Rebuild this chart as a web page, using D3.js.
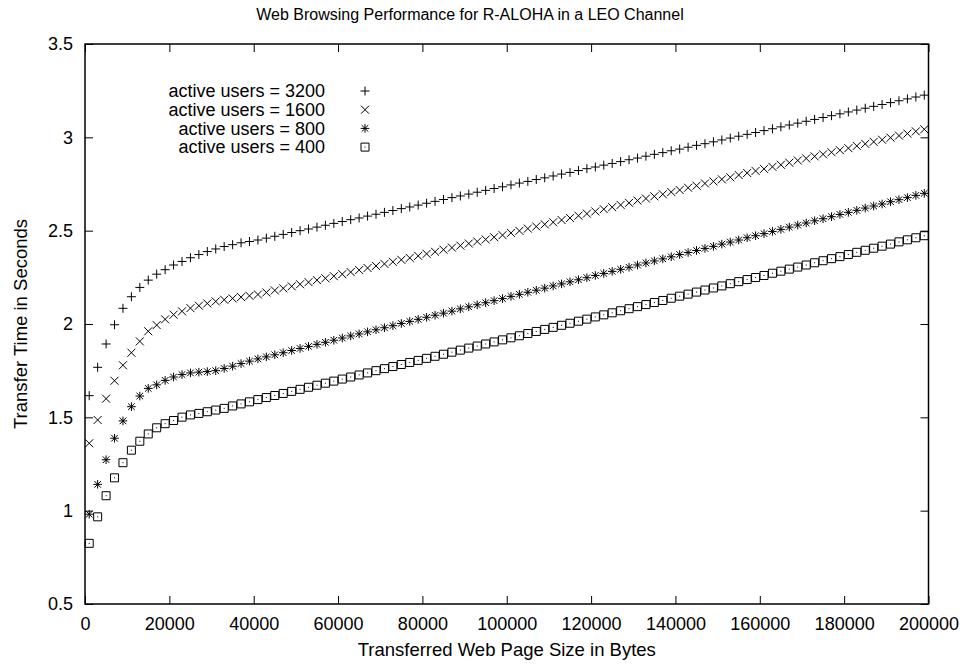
<!DOCTYPE html>
<html>
<head>
<meta charset="utf-8">
<script src="https://cdn.jsdelivr.net/npm/d3@7"></script>
<style>
  body { margin: 0; background: #fff; }
  text { font-family: "Liberation Sans", Arial, Helvetica, sans-serif; fill: #000; }
</style>
</head>
<body>
<div id="chart"></div>
<script>
// page sizes (bytes) of the sampled points
var pageSizes = [
  1000, 3000, 5000, 7000, 9000, 11000, 13000, 15000, 17000, 19000,
  21000, 23000, 25000, 27000, 29000, 31000, 33000, 35000, 37000, 39000,
  41000, 43000, 45000, 47000, 49000, 51000, 53000, 55000, 57000, 59000,
  61000, 63000, 65000, 67000, 69000, 71000, 73000, 75000, 77000, 79000,
  81000, 83000, 85000, 87000, 89000, 91000, 93000, 95000, 97000, 99000,
  101000, 103000, 105000, 107000, 109000, 111000, 113000, 115000, 117000, 119000,
  121000, 123000, 125000, 127000, 129000, 131000, 133000, 135000, 137000, 139000,
  141000, 143000, 145000, 147000, 149000, 151000, 153000, 155000, 157000, 159000,
  161000, 163000, 165000, 167000, 169000, 171000, 173000, 175000, 177000, 179000,
  181000, 183000, 185000, 187000, 189000, 191000, 193000, 195000, 197000, 199000
];

// transfer times (s)
var users3200 = [
  1.616, 1.768, 1.893, 1.996, 2.084, 2.146, 2.196, 2.235, 2.267, 2.291,
  2.316, 2.335, 2.355, 2.372, 2.388, 2.402, 2.415, 2.425, 2.435, 2.442,
  2.450, 2.460, 2.470, 2.480, 2.490, 2.500, 2.509, 2.519, 2.529, 2.539,
  2.549, 2.559, 2.568, 2.578, 2.588, 2.598, 2.608, 2.618, 2.627, 2.637,
  2.647, 2.657, 2.667, 2.677, 2.686, 2.696, 2.706, 2.716, 2.726, 2.735,
  2.745, 2.755, 2.764, 2.774, 2.783, 2.793, 2.803, 2.812, 2.822, 2.832,
  2.841, 2.851, 2.860, 2.870, 2.880, 2.889, 2.899, 2.909, 2.918, 2.928,
  2.937, 2.947, 2.957, 2.966, 2.976, 2.986, 2.996, 3.006, 3.016, 3.026,
  3.036, 3.046, 3.056, 3.066, 3.076, 3.086, 3.096, 3.106, 3.116, 3.126,
  3.136, 3.146, 3.156, 3.166, 3.176, 3.186, 3.196, 3.206, 3.216, 3.226
];
var users1600 = [
  1.361, 1.486, 1.600, 1.696, 1.779, 1.846, 1.907, 1.961, 1.994, 2.025,
  2.050, 2.068, 2.085, 2.098, 2.110, 2.121, 2.130, 2.137, 2.144, 2.151,
  2.158, 2.169, 2.180, 2.191, 2.202, 2.213, 2.224, 2.235, 2.245, 2.256,
  2.267, 2.278, 2.289, 2.300, 2.311, 2.322, 2.333, 2.344, 2.354, 2.365,
  2.376, 2.387, 2.398, 2.409, 2.420, 2.431, 2.442, 2.453, 2.465, 2.476,
  2.488, 2.499, 2.511, 2.522, 2.534, 2.545, 2.557, 2.568, 2.580, 2.591,
  2.603, 2.615, 2.626, 2.638, 2.649, 2.661, 2.672, 2.684, 2.695, 2.707,
  2.718, 2.730, 2.741, 2.753, 2.764, 2.775, 2.786, 2.798, 2.809, 2.820,
  2.831, 2.842, 2.853, 2.864, 2.876, 2.887, 2.898, 2.909, 2.920, 2.931,
  2.942, 2.954, 2.965, 2.976, 2.987, 2.998, 3.009, 3.020, 3.032, 3.043
];
var users800 = [
  0.981, 1.141, 1.273, 1.388, 1.481, 1.557, 1.614, 1.655, 1.674, 1.698,
  1.716, 1.729, 1.738, 1.742, 1.745, 1.750, 1.762, 1.774, 1.788, 1.801,
  1.813, 1.824, 1.835, 1.846, 1.858, 1.869, 1.880, 1.891, 1.902, 1.913,
  1.925, 1.936, 1.947, 1.958, 1.969, 1.980, 1.991, 2.003, 2.014, 2.025,
  2.036, 2.047, 2.058, 2.069, 2.081, 2.092, 2.103, 2.114, 2.125, 2.136,
  2.148, 2.159, 2.170, 2.181, 2.192, 2.204, 2.215, 2.226, 2.237, 2.248,
  2.260, 2.271, 2.282, 2.293, 2.304, 2.316, 2.327, 2.338, 2.349, 2.360,
  2.372, 2.383, 2.394, 2.405, 2.416, 2.428, 2.439, 2.450, 2.462, 2.473,
  2.484, 2.496, 2.507, 2.519, 2.530, 2.541, 2.553, 2.564, 2.575, 2.587,
  2.598, 2.609, 2.621, 2.632, 2.643, 2.655, 2.666, 2.677, 2.689, 2.700
];
var users400 = [
  0.825, 0.967, 1.080, 1.176, 1.257, 1.324, 1.372, 1.411, 1.444, 1.466,
  1.483, 1.501, 1.513, 1.521, 1.530, 1.539, 1.548, 1.561, 1.572, 1.583,
  1.595, 1.606, 1.617, 1.628, 1.639, 1.650, 1.661, 1.672, 1.683, 1.694,
  1.705, 1.716, 1.727, 1.738, 1.750, 1.761, 1.772, 1.783, 1.794, 1.805,
  1.816, 1.827, 1.838, 1.849, 1.860, 1.871, 1.882, 1.893, 1.904, 1.915,
  1.926, 1.937, 1.949, 1.960, 1.971, 1.982, 1.993, 2.004, 2.015, 2.026,
  2.038, 2.049, 2.060, 2.071, 2.082, 2.093, 2.104, 2.115, 2.126, 2.138,
  2.149, 2.160, 2.171, 2.182, 2.193, 2.204, 2.216, 2.227, 2.238, 2.249,
  2.260, 2.272, 2.283, 2.294, 2.305, 2.316, 2.328, 2.339, 2.350, 2.361,
  2.372, 2.384, 2.395, 2.406, 2.417, 2.428, 2.440, 2.451, 2.462, 2.473
];

var seriesNames = ["active users = 3200", "active users = 1600", "active users = 800", "active users = 400"];
var seriesValues = [users3200, users1600, users800, users400];
var seriesSymbols = ["plus", "cross", "star", "box"];

var xTicks = [0, 20000, 40000, 60000, 80000, 100000, 120000, 140000, 160000, 180000, 200000];
var yTicks = [0.5, 1, 1.5, 2, 2.5, 3, 3.5];

// dimensions
var W = 966, H = 667;
var margin = {top: 44, right: 37.5, bottom: 63, left: 85};
var width = W - margin.left - margin.right,
    height = H - margin.top - margin.bottom;

var svg = d3.select("#chart").append("svg")
    .attr("width", W)
    .attr("height", H);

var g = svg.append("g")
    .attr("transform", "translate(" + margin.left + "," + margin.top + ")");

var x = d3.scaleLinear().domain([0, 200000]).range([0, width]);
var y = d3.scaleLinear().domain([0.5, 3.5]).range([height, 0]);

// marker shapes, gnuplot style
function symbolPath(type) {
  var p = d3.path();
  if (type === "plus" || type === "star") {
    var a = type === "plus" ? 4.5 : 4.3;
    p.moveTo(-a, 0); p.lineTo(a, 0);
    p.moveTo(0, -a); p.lineTo(0, a);
  }
  if (type === "cross" || type === "star") {
    var c = type === "cross" ? 4 : 3.3;
    p.moveTo(-c, -c); p.lineTo(c, c);
    p.moveTo(-c, c); p.lineTo(c, -c);
  }
  if (type === "box") {
    p.rect(-4, -4, 8, 8);
    p.moveTo(-0.5, 0); p.lineTo(0.5, 0);
  }
  return p.toString();
}

// axes (ticks point inward, mirrored on top and right)
var fmt = function(d) { return String(d); };

g.append("g")
    .attr("transform", "translate(0," + height + ")")
    .call(d3.axisBottom(x).tickValues(xTicks).tickFormat(fmt)
      .tickSizeInner(-8).tickSizeOuter(0).tickPadding(13));

g.append("g")
    .call(d3.axisTop(x).tickValues(xTicks).tickFormat("")
      .tickSizeInner(-8).tickSizeOuter(0));

g.append("g")
    .call(d3.axisLeft(y).tickValues(yTicks).tickFormat(fmt)
      .tickSizeInner(-8).tickSizeOuter(0).tickPadding(12));

g.append("g")
    .attr("transform", "translate(" + width + ",0)")
    .call(d3.axisRight(y).tickValues(yTicks).tickFormat("")
      .tickSizeInner(-8).tickSizeOuter(0));

g.selectAll(".domain").remove();
g.selectAll(".tick line").attr("stroke", "#000").attr("stroke-width", 1);
g.selectAll(".tick text").attr("font-size", "18px").attr("font-family", "Liberation Sans, Arial, sans-serif");

// frame
g.append("rect")
    .attr("width", width)
    .attr("height", height)
    .attr("fill", "none")
    .attr("stroke", "#000")
    .attr("stroke-width", 1.5);

// points
seriesValues.forEach(function(vals, i) {
  g.append("g")
    .selectAll("path")
    .data(vals)
    .enter()
    .append("path")
      .attr("transform", function(d, j) { return "translate(" + x(pageSizes[j]) + "," + y(d) + ")"; })
      .attr("d", symbolPath(seriesSymbols[i]))
      .attr("fill", "none")
      .attr("stroke", "#000")
      .attr("stroke-width", 1);
});

// legend
var legend = svg.append("g");
seriesNames.forEach(function(name, i) {
  var ly = 91 + i * 18.7;
  legend.append("text")
    .attr("x", 325)
    .attr("y", ly)
    .attr("dy", "0.35em")
    .attr("text-anchor", "end")
    .attr("font-size", "18px")
    .text(name);
  legend.append("path")
    .attr("transform", "translate(365," + ly + ")")
    .attr("d", symbolPath(seriesSymbols[i]))
    .attr("fill", "none")
    .attr("stroke", "#000")
    .attr("stroke-width", 1);
});

// title and axis labels
svg.append("text")
   .attr("x", 470)
   .attr("y", 20)
   .attr("text-anchor", "middle")
   .attr("font-size", "16px")
   .text("Web Browsing Performance for R-ALOHA in a LEO Channel");

svg.append("text")
   .attr("x", margin.left + width / 2)
   .attr("y", 656)
   .attr("text-anchor", "middle")
   .attr("font-size", "18.5px")
   .text("Transferred Web Page Size in Bytes");

svg.append("text")
   .attr("transform", "translate(27," + (margin.top + height / 2) + ") rotate(-90)")
   .attr("text-anchor", "middle")
   .attr("font-size", "18.5px")
   .text("Transfer Time in Seconds");
</script>
</body>
</html>
